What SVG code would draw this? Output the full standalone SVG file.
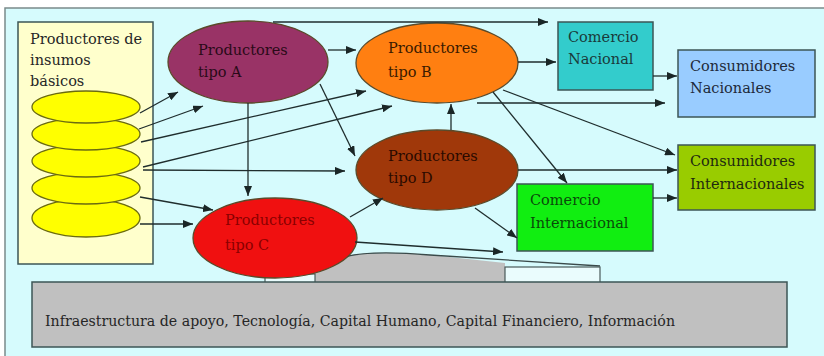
<svg xmlns="http://www.w3.org/2000/svg" width="824" height="356" viewBox="0 0 824 356">
<defs>
<marker id="ah" viewBox="0 0 10 8" refX="10" refY="4" markerWidth="10" markerHeight="8" markerUnits="userSpaceOnUse" orient="auto">
<path d="M0,0 L10,4 L0,8 Z" fill="#1a2626"/>
</marker>
</defs>
<style>
.box{stroke:#3d5656;stroke-width:1.5}
.ell{stroke:#5a4a2a;stroke-width:1.3}
.yel{fill:#ffff00;stroke:#6b6b10;stroke-width:1.3}
.c line{stroke:#1f2d2d;stroke-width:1.3;fill:none;marker-end:url(#ah)}
</style>
<rect x="0" y="0" width="824" height="356" fill="#ffffff"/>
<rect x="5" y="8" width="825" height="352" fill="#d6fbfd" stroke="#7a8a8a" stroke-width="1.5"/>
<g font-family="DejaVu Serif, Liberation Serif, serif" font-size="14.5">
<g id="infraestructura">
<path d="M300,283 L300,262 Q370,248 440,256 L505,263 L505,283 Z" fill="#c0c0c0"/>
<path d="M345,257 Q370,250 430,255 L600,266" fill="none" stroke="#3a4a4a" stroke-width="1.3"/>
<rect x="505" y="267" width="95" height="16" fill="#eafcfd" stroke="#4a5a5a" stroke-width="1.2"/>
<rect x="265" y="274" width="50" height="9" fill="#eafcfd" stroke="#4a5a5a" stroke-width="1.2"/>
<rect class="box" x="32" y="282" width="755" height="65" fill="#c0c0c0"/>
<text x="45" y="326" fill="#262626" font-size="15" textLength="630" lengthAdjust="spacingAndGlyphs">Infraestructura de apoyo, Tecnología, Capital Humano, Capital Financiero, Información</text>
</g>

<g id="insumos">
<rect class="box" x="18" y="22" width="135" height="242" fill="#ffffcc"/>
<text x="30" y="44" fill="#262626">Productores de</text>
<text x="30" y="65" fill="#262626">insumos</text>
<text x="30" y="86" fill="#262626">básicos</text>
<ellipse class="yel" cx="86" cy="218" rx="54" ry="19"/>
<ellipse class="yel" cx="86" cy="188" rx="54" ry="16"/>
<ellipse class="yel" cx="86" cy="161" rx="54" ry="16"/>
<ellipse class="yel" cx="86" cy="134" rx="54" ry="16"/>
<ellipse class="yel" cx="86" cy="107" rx="54" ry="16"/>
</g>

<g id="tipoA">
<ellipse class="ell" cx="248" cy="62" rx="80" ry="41" fill="#993366"/>
<text x="198" y="55" fill="#2a0a18">Productores</text>
<text x="198" y="77" fill="#2a0a18">tipo A</text>
</g>
<g id="tipoB">
<ellipse class="ell" cx="437" cy="63" rx="81" ry="40" fill="#ff7f11"/>
<text x="388" y="53" fill="#3a1a00">Productores</text>
<text x="388" y="77" fill="#3a1a00">tipo B</text>
</g>
<g id="tipoD">
<ellipse class="ell" cx="437" cy="170" rx="81" ry="40" fill="#a0380a"/>
<text x="388" y="161" fill="#2a0a00">Productores</text>
<text x="388" y="183" fill="#2a0a00">tipo D</text>
</g>
<g id="tipoC">
<ellipse class="ell" cx="275" cy="238" rx="82" ry="40" fill="#f01010"/>
<text x="225" y="225" fill="#8a0000">Productores</text>
<text x="225" y="250" fill="#8a0000">tipo C</text>
</g>

<g id="comercioNacional">
<rect class="box" x="558" y="22" width="95" height="68" fill="#33cccc"/>
<text x="568" y="42" fill="#1a3a3a">Comercio</text>
<text x="568" y="64" fill="#1a3a3a">Nacional</text>
</g>
<g id="consumidoresNacionales">
<rect class="box" x="678" y="50" width="137" height="67" fill="#99ccff"/>
<text x="690" y="71" fill="#1e2a3a">Consumidores</text>
<text x="690" y="93" fill="#1e2a3a">Nacionales</text>
</g>
<g id="consumidoresInternacionales">
<rect class="box" x="678" y="145" width="137" height="65" fill="#99cc00"/>
<text x="690" y="166" fill="#1e2a10">Consumidores</text>
<text x="690" y="189" fill="#1e2a10">Internacionales</text>
</g>
<g id="comercioInternacional">
<rect class="box" x="517" y="184" width="136" height="67" fill="#11ee11"/>
<text x="530" y="205" fill="#0a4a0a">Comercio</text>
<text x="530" y="228" fill="#0a4a0a">Internacional</text>
</g>
</g>
<g id="connectors" class="c">
<line x1="140" y1="113" x2="178" y2="92"/>
<line x1="139" y1="129" x2="203" y2="106"/>
<line x1="141" y1="142" x2="366" y2="91"/>
<line x1="143" y1="167" x2="392" y2="106"/>
<line x1="143" y1="170" x2="345" y2="171"/>
<line x1="140" y1="197" x2="213" y2="210"/>
<line x1="140" y1="224" x2="193" y2="224"/>
<line x1="328" y1="50" x2="356" y2="50"/>
<line x1="320" y1="84" x2="355" y2="156"/>
<line x1="248" y1="103" x2="248" y2="196"/>
<line x1="273" y1="22" x2="548" y2="22"/>
<line x1="518" y1="62" x2="556" y2="62"/>
<line x1="477" y1="103" x2="665" y2="103"/>
<line x1="503" y1="90" x2="675" y2="155"/>
<line x1="493" y1="92" x2="567" y2="183"/>
<line x1="451" y1="130" x2="451" y2="104"/>
<line x1="518" y1="170" x2="677" y2="170"/>
<line x1="475" y1="208" x2="517" y2="238"/>
<line x1="350" y1="217" x2="383" y2="198"/>
<line x1="355" y1="242" x2="503" y2="252"/>
<line x1="653" y1="76" x2="677" y2="76"/>
<line x1="653" y1="198" x2="677" y2="198"/>
</g>
</svg>
